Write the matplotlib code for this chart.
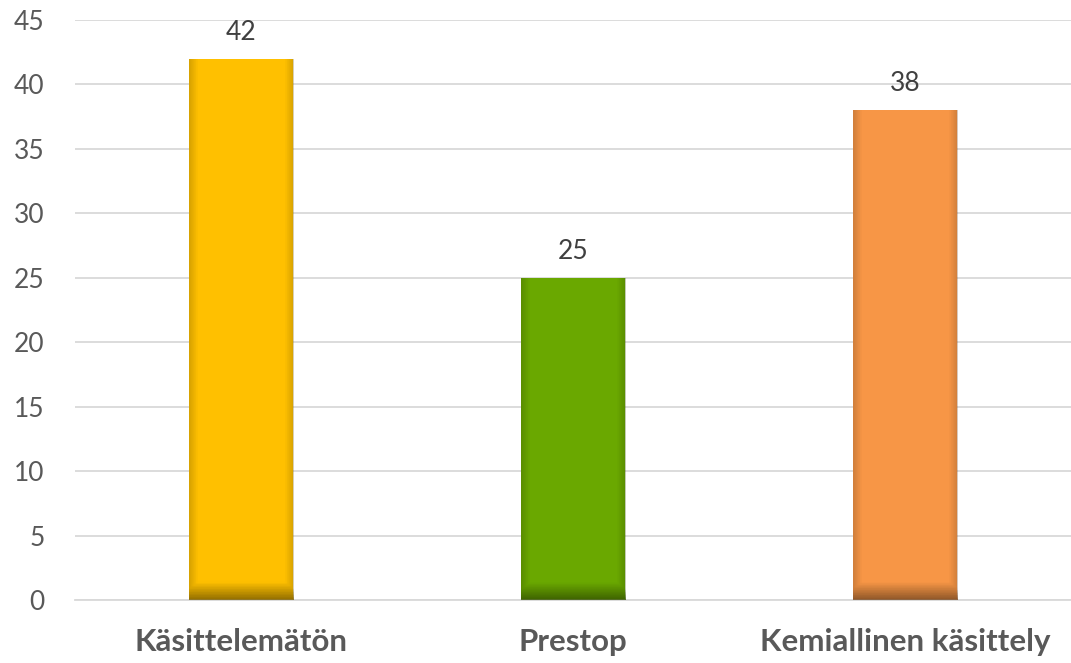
import numpy as np
import matplotlib.pyplot as plt
import matplotlib.colors as mcolors

categories = ['Käsittelemätön', 'Prestop', 'Kemiallinen käsittely']
values = [42, 25, 38]
colors = ['#FFC000', '#6AA800', '#F79646']

plt.rcParams['font.family'] = ['Lato', 'DejaVu Sans']

fig = plt.figure(figsize=(10.71, 6.63), dpi=100)
ax = fig.add_axes([0.070, 0.095, 0.930, 0.875])

x = np.arange(len(categories))
bars = ax.bar(x, values, width=0.315, color=colors, zorder=2)

# light shading: darker side edges and a dark band at the foot of each bar
for b, c in zip(bars, colors):
    rgb = np.array(mcolors.to_rgb(c))
    h = 200
    w = 60
    img = np.zeros((h, w, 4))
    img[:, :, :3] = rgb * 0.5
    ys = np.linspace(0, 1, h)[:, None]  # 0 = bottom
    foot = 1.3 / b.get_height()
    a_bottom = np.clip(1 - ys / foot, 0, 1) * 0.8
    xs = np.linspace(0, 1, w)[None, :]
    edge = np.clip(1 - np.minimum(xs, 1 - xs) / 0.08, 0, 1) * 0.3
    img[:, :, 3] = np.maximum(a_bottom, edge)
    x0, y0 = b.get_x(), b.get_y()
    im = ax.imshow(img, origin='lower', aspect='auto', zorder=3,
                   extent=(x0, x0 + b.get_width(), y0, y0 + b.get_height()))
    im.set_clip_path(b)
    ax.annotate(str(int(b.get_height())), (b.get_x() + b.get_width() / 2, b.get_height()),
                xytext=(0, 10), textcoords='offset points',
                ha='center', va='bottom', fontsize=19, color='#404040')

ax.set_xlim(-0.5, 2.5)
ax.set_ylim(0, 45)
ax.set_yticks(range(0, 46, 5))
ax.set_xticks(x)
ax.set_xticklabels(categories, fontsize=22.5, fontweight='bold', color='#595959')
ax.tick_params(axis='y', labelsize=19, labelcolor='#595959', length=0, pad=22)
ax.tick_params(axis='x', length=0, pad=20)
ax.grid(axis='y', color='#D9D9D9', linewidth=1.3, zorder=0)
for s in ['top', 'right', 'left']:
    ax.spines[s].set_visible(False)
ax.spines['bottom'].set_color('#D9D9D9')
ax.spines['bottom'].set_linewidth(1.3)

fig.savefig('out.png', dpi=100)
